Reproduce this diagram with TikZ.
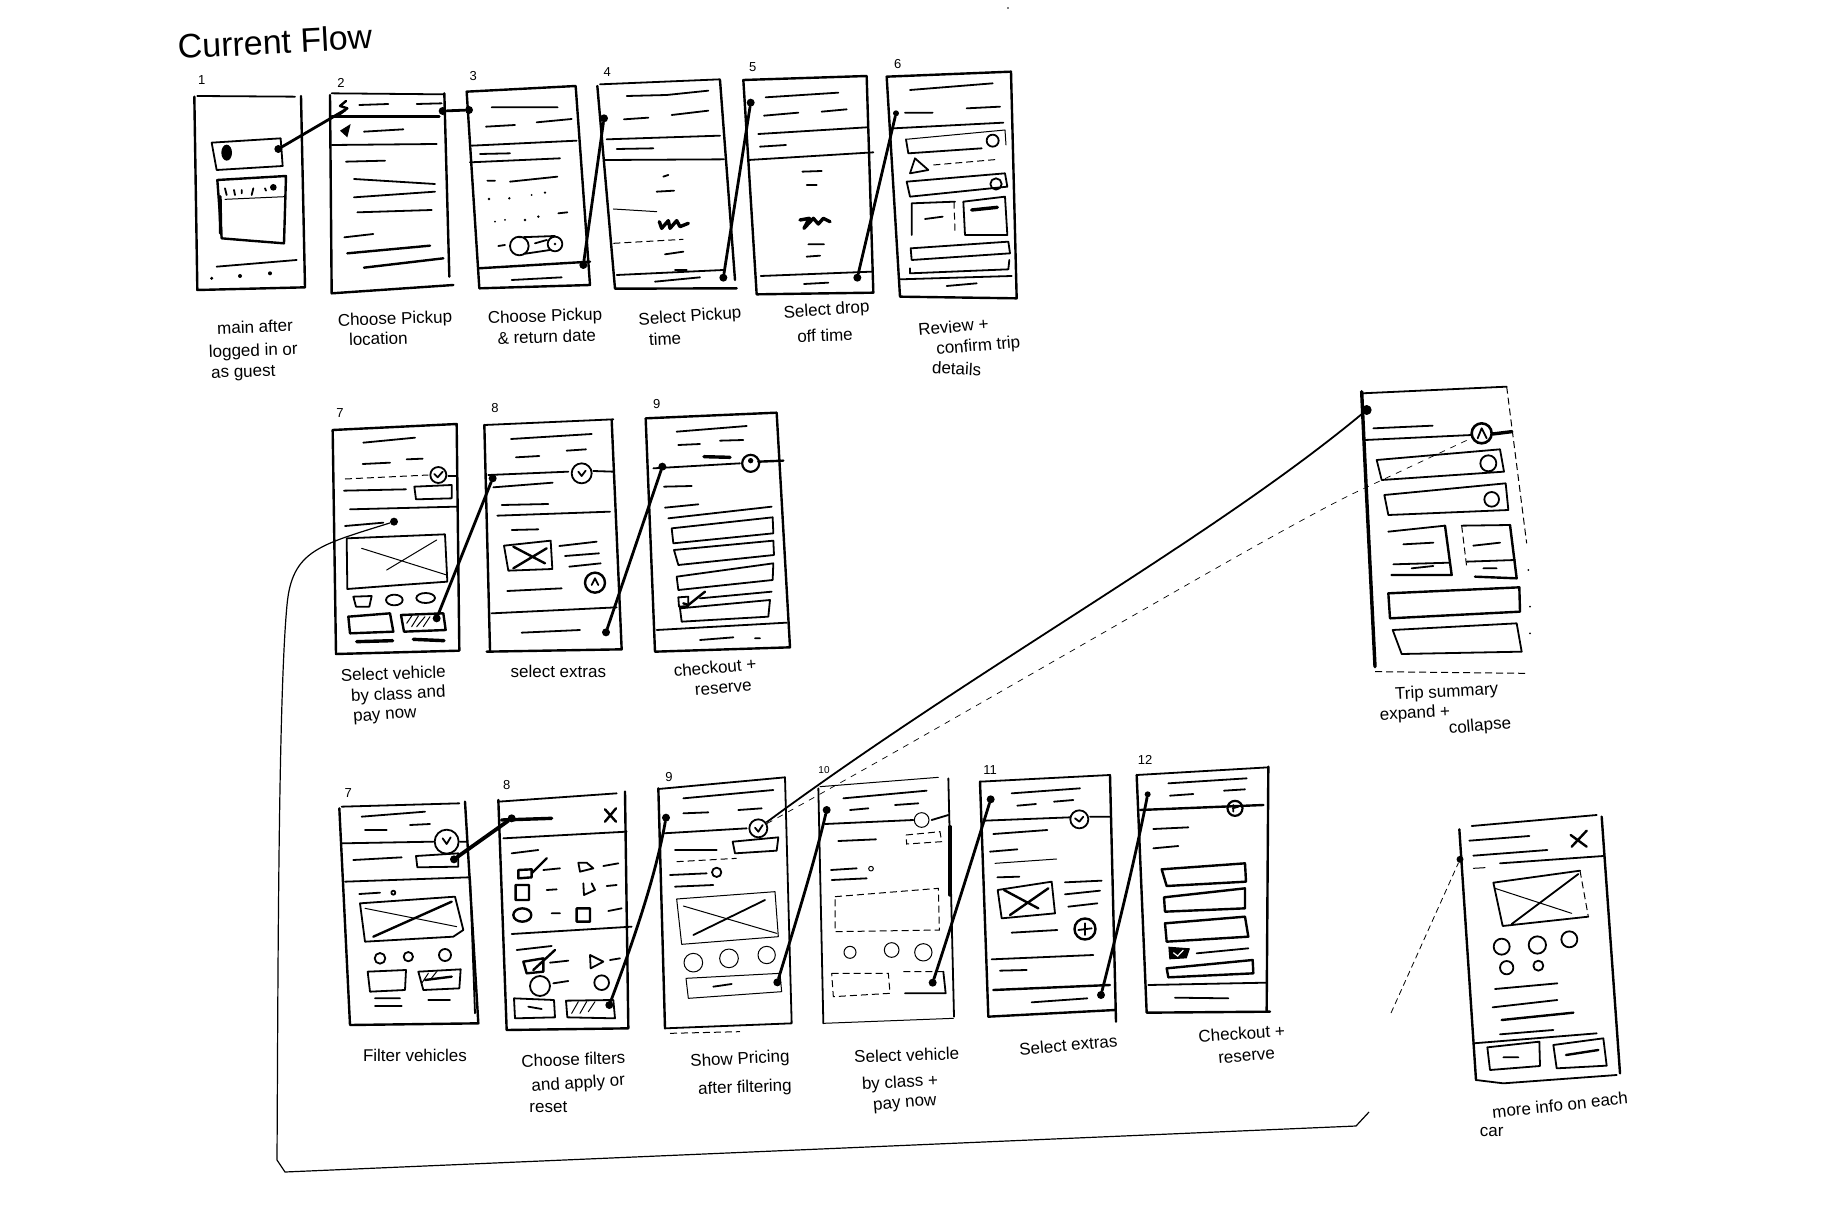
\documentclass[tikz,border=0pt]{standalone}
\usepackage{fontspec}
\setmainfont{Liberation Sans}
\tikzset{
 z1/.style={shift={(160,0)},scale=0.33333},
 z2/.style={shift={(600,50)},scale=0.33333},
 z3/.style={shift={(300,400)},scale=0.33333},
 z4/.style={shift={(1340,380)},scale=0.33333},
 z5/.style={shift={(330,780)},scale=0.33333},
 z6/.style={shift={(800,760)},scale=0.33333},
 z7/.style={shift={(1440,800)},scale=0.33333},
 hv/.style={draw=black,line width=2.4pt,line cap=round,line join=round},
 tl/.style={draw=black,line width=1.8pt,line cap=round,line join=round},
 fl/.style={draw=black,line width=1pt,line cap=round,line join=round},
 tk/.style={draw=black,line width=3.4pt,line cap=round,line join=round},
 dsh/.style={draw=black,line width=1pt,dash pattern=on 7pt off 4pt},
 fnt/.style={draw=black,line width=0.7pt,dash pattern=on 6pt off 6pt},
 hot/.style={circle,fill=black,inner sep=0pt,minimum size=8pt},
 lnk/.style={draw=black,line width=2.8pt,line cap=round},
 lab/.style={font=\fontsize{17}{17}\selectfont,inner sep=0pt,text=black},
 num/.style={font=\fontsize{13}{13}\selectfont,inner sep=0pt,text=black},
 ring/.style={circle,draw=black,line width=1.8pt,inner sep=0pt},
}
\begin{document}
\begin{tikzpicture}[x=1pt,y=-1pt]
\useasboundingbox[fill=white] (0,0) rectangle (1825,1217);
\fill (1008,8) circle[radius=0.8];
% ---------- crop 1 ----------
\begin{scope}[z1]
\node[font=\fontsize{34}{34}\selectfont,inner sep=0pt,rotate=3] (title) at (345,125) {Current Flow};
\node[num] (n1) at (125,240) {1};
\node[num] (n2) at (543,248) {2};
\node[num] (n3) at (940,228) {3};
\node[num] (n4) at (1342,215) {4};
\node[lab,rotate=2] (l1a) at (285,980) {main after};
\node[lab,rotate=2] (l1b) at (280,1055) {logged in or};
\node[lab,rotate=2] (l1c) at (250,1120) {as guest};
\node[lab,rotate=2] (l2a) at (705,960) {Choose Pickup};
\node[lab,rotate=2] (l2b) at (655,1016) {location};
\node[lab,rotate=2] (l3a) at (1155,952) {Choose Pickup};
\node[lab,rotate=2] (l3b) at (1160,1010) {\& return date};
% screen 1
\draw[hv] (103,290)--(112,870)--(435,862)--(423,288);
\draw[tl] (112,288)--(405,290);
\draw[tl] (155,428)--(362,415)--(368,498)--(170,510)--cycle;
\fill (200,458) ellipse[x radius=16,y radius=24];
\draw[hv] (172,540)--(378,528)--(372,730)--(270,722)--(185,715)--cycle;
\draw[tk] (180,590)--(182,700);
\draw[fl] (195,598)--(375,590);
\draw[tl] (195,565)--(200,585) (222,570)--(225,585) (245,570)--(245,580) (280,565)--(275,585) (315,565)--(318,572);
\fill (340,562) circle[radius=10];
\draw[tl] (170,800)--(410,780);
\fill (155,835) circle[radius=5] (240,828) circle[radius=6] (330,820) circle[radius=6];
\node[hot] (a1) at (355,447) {};
% screen 2
\draw[hv] (510,285)--(515,880)--(880,855);
\draw[hv] (853,280)--(868,830);
\draw[tl] (515,280)--(850,283) (598,315)--(685,312) (770,312)--(845,310);
\draw[hv] (515,350)--(838,350);
\draw[tl] (515,435)--(830,432) (612,395)--(730,388);
\fill (540,392)--(572,372)--(562,412)--cycle;
\draw[hv] (558,303)--(540,318)--(562,325)--(540,342);
\draw[tl] (558,485)--(675,482) (582,537)--(825,552) (582,592)--(825,575) (592,637)--(815,630) (553,712)--(640,702);
\draw[hv] (562,760)--(810,737) (612,803)--(850,775);
\coordinate (a2) at (555,330);
\node[hot] (b2) at (848,333) {};
% screen 3
\draw[hv] (920,275)--(958,865)--(1290,855)--(1247,258)--cycle;
\draw[tl] (995,322)--(1193,322) (978,380)--(1065,375) (1130,367)--(1235,357) (935,437)--(1250,422) (960,462)--(1050,460) (930,487)--(1200,475) (1050,545)--(1192,530) (982,542)--(1005,542);
\fill (987,597) circle[radius=4] (1048,595) circle[radius=4] (1115,585) circle[radius=3] (1155,578) circle[radius=4] (1005,665) circle[radius=3] (1035,660) circle[radius=3] (1095,660) circle[radius=4] (1135,650) circle[radius=4];
\draw[tl] (1195,640)--(1222,637);
\draw[tl] (1078,738) circle[radius=28] (1185,732) circle[radius=22] (1078,712)--(1185,708) (1090,762)--(1170,750) (1015,738)--(1035,735) (1125,730)--(1160,720);
\fill (1185,732) circle[radius=4];
\draw[hv] (955,805)--(1290,785);
\draw[tl] (1055,840)--(1205,832);
\node[hot] (a3) at (927,330) {};
\node[hot] (b3) at (1270,795) {};
\end{scope}
% ---------- crop 2 ----------
\begin{scope}[z2]
\node[num] (n5) at (458,50) {5};
\node[num] (n6) at (893,42) {6};
\node[lab,rotate=4] (l4a) at (270,802) {Select Pickup};
\node[lab,rotate=3] (l4b) at (195,866) {time};
\node[lab,rotate=4] (l5a) at (680,782) {Select drop};
\node[lab,rotate=2] (l5b) at (675,856) {off time};
\node[lab,rotate=5] (l6a) at (1060,830) {Review +};
\node[lab,rotate=5] (l6b) at (1135,890) {confirm trip};
\node[lab,rotate=-3] (l6c) at (1070,955) {details};
% screen 4
\draw[hv] (-8,108)--(45,716)--(410,715);
\draw[hv] (360,90)--(405,690);
\draw[tl] (0,103)--(360,88) (80,138)--(200,135)--(325,122) (72,208)--(145,203) (215,195)--(325,182) (20,268)--(360,257) (50,297)--(160,295) (15,330)--(372,328) (190,380)--(205,375) (170,425)--(222,422) (195,613)--(250,605) (225,660)--(260,660) (50,675)--(370,660) (165,695)--(300,682);
\draw[fl] (40,477)--(170,485);
\draw[dsh] (40,580)--(250,568);
\draw[tk] (178,515)--(185,535)--(205,512)--(210,535)--(230,512)--(240,530)--(265,520);
\node[hot] (a4) at (12,205) {};
\node[hot] (b4) at (370,683) {};
% screen 5
\draw[hv] (430,90)--(470,733)--(820,728)--(800,78)--cycle;
\draw[tl] (497,142)--(715,128) (492,197)--(595,188) (665,185)--(740,178) (475,252)--(800,232) (480,290)--(558,285) (445,330)--(820,307) (607,365)--(665,363) (620,405)--(650,405) (625,583)--(672,583) (620,620)--(660,617) (482,678)--(815,665) (612,702)--(685,698);
\draw[tk] (600,510)--(628,505)--(612,535)--(640,505)--(655,522)--(670,505)--(690,515);
\node[hot] (a5) at (452,158) {};
\node[hot] (b5) at (772,683) {};
% screen 6
\draw[hv] (860,80)--(900,740)--(1250,745)--(1233,65)--cycle;
\draw[tl] (930,120)--(1178,100) (915,188)--(998,188) (1100,175)--(1200,170) (880,235)--(1210,218);
\draw[fl] (918,268)--(1215,240)--(1218,285);
\draw[tl] (918,268)--(925,310)--(1145,295);
\draw[tl] (1178,272) circle[radius=18] (930,370)--(945,325)--(985,360)--cycle;
\draw[dsh] (1000,345)--(1195,328);
\draw[tl] (920,395)--(1215,370)--(1222,410)--(930,440)--cycle (1188,402) circle[radius=17];
\draw[tl] (935,460)--(1065,455) (935,460)--(935,555);
\draw[dsh] (1062,455)--(1065,545);
\draw[tl] (975,507)--(1028,500) (1090,455)--(1215,440)--(1222,555)--(1095,555)--cycle;
\draw[tk] (1115,480)--(1192,472);
\draw[tl] (932,595)--(1225,575)--(1230,610)--(935,630)--cycle (930,655)--(930,670)--(1225,658)--(1228,630) (900,688)--(1235,678) (1040,708)--(1130,700);
\node[hot,minimum size=6pt] (a6) at (888,190) {};
\end{scope}
% ---------- crop 3 ----------
\begin{scope}[z3]
\node[num] (n7a) at (120,40) {7};
\node[num] (n8a) at (585,25) {8};
\node[num] (n9a) at (1070,12) {9};
\node[lab,rotate=2] (l7a) at (280,820) {Select vehicle};
\node[lab,rotate=3] (l7b) at (295,885) {by class and};
\node[lab,rotate=4] (l7c) at (255,950) {pay now};
\node[lab] (l8a) at (775,815) {select extras};
\node[lab,rotate=5] (l9a) at (1245,802) {checkout +};
\node[lab,rotate=5] (l9b) at (1270,866) {reserve};
% screen 7a
\draw[hv] (98,90)--(108,762)--(478,752)--(470,72)--cycle;
\draw[tl] (190,128)--(345,113) (188,192)--(270,188) (320,178)--(368,176) (132,272)--(318,268) (343,260)--(455,255)--(455,295)--(348,298)--cycle (445,228)--(470,228) (150,328)--(470,320) (135,378)--(250,368);
\draw[dsh] (135,237)--(385,225);
\node[ring,minimum size=16pt] (c7a) at (415,225) {};
\draw[tl] (403,222)--(413,232)--(428,215);
\node[hot] (d7a) at (282,365) {};
\draw[tl] (140,415)--(435,403)--(442,545)--(300,555)--(142,567)--cycle;
\draw[fl] (185,445)--(440,525) (260,510)--(410,420);
\draw[tl] (160,590)--(215,588)--(208,620)--(168,620)--cycle (283,600) ellipse[x radius=25,y radius=16] (377,594) ellipse[x radius=28,y radius=15];
\draw[hv] (145,650)--(270,640)--(280,695)--(150,700)--cycle (303,645)--(430,640)--(437,690)--(312,695)--cycle;
\draw[fl] (320,670)--(335,648) (335,680)--(355,648) (350,680)--(375,650) (370,680)--(390,650);
\draw[tk] (170,725)--(278,722) (340,718)--(432,722);
\node[hot] (a7) at (410,655) {};
% screen 8a
\draw[hv] (553,75)--(570,750) (560,755)--(965,748)--(935,60);
\draw[tl] (553,75)--(940,58) (633,117)--(875,102) (648,172)--(718,168) (800,152)--(858,148) (565,225)--(805,215) (880,213)--(940,215) (580,262)--(758,248) (605,315)--(745,312) (592,347)--(930,335) (635,390)--(715,388);
\node[ring,minimum size=20pt] (c8a) at (845,220) {};
\draw[tl] (835,215)--(845,228)--(857,212);
\draw[tl] (612,437)--(752,422)--(757,507)--(625,512)--cycle (778,438)--(890,425) (795,468)--(897,460) (808,500)--(902,490) (622,573)--(785,565) (575,640)--(950,622) (665,698)--(840,690);
\draw[hv] (640,440)--(735,490) (640,505)--(740,445);
\draw[hv] (885,548) circle[radius=30];
\draw[tl] (875,555)--(885,535)--(895,555);
\node[hot] (b8) at (578,235) {};
\node[hot] (c8) at (918,697) {};
% screen 9a
\draw[hv] (1037,55)--(1065,755)--(1470,742)--(1430,38)--cycle;
\draw[tl] (1130,95)--(1340,78) (1135,135)--(1200,132) (1260,122)--(1330,120) (1060,205)--(1320,190) (1092,260)--(1175,258) (1095,323)--(1195,313) (1105,355)--(1415,320) (1115,385)--(1418,352)--(1420,400)--(1120,430)--cycle (1122,450)--(1420,422)--(1422,465)--(1135,495)--cycle (1130,530)--(1420,490)--(1418,540)--(1135,570)--cycle (1135,592)--(1165,590)--(1165,618)--(1137,620)--cycle (1200,595)--(1415,575) (1140,625)--(1410,600)--(1405,650)--(1145,665)--cycle (1070,690)--(1460,668) (1200,720)--(1300,712) (1365,715)--(1380,715);
\draw[hv] (1150,610)--(1165,615)--(1215,575) (1375,185)--(1450,182);
\draw[tk] (1212,170)--(1290,172);
\node[ring,minimum size=17pt,line width=2.2pt] (c9a) at (1352,190) {};
\fill (1352,182) circle[radius=8];
\node[hot] (d9) at (1087,200) {};
\end{scope}
% ---------- crop 4 ----------
\begin{scope}[z4]
\node[lab,rotate=3] (l10a) at (320,938) {Trip summary};
\node[lab,rotate=3] (l10b) at (225,1002) {expand +};
\node[lab,rotate=5] (l10c) at (420,1040) {collapse};
\draw[tk] (65,35)--(75,250)--(105,860);
\draw[tl] (65,40)--(500,20);
\draw[dsh] (500,20)--(560,490);
\draw[dsh] (105,875)--(560,880);
\fill (565,570) circle[radius=3] (570,680) circle[radius=3] (570,760) circle[radius=3];
\draw[tl] (100,145)--(278,137) (75,180)--(395,165) (125,300)--(110,240)--(480,208)--(492,275)--cycle (445,250) circle[radius=24] (133,345)--(497,310)--(505,390)--(145,405)--cycle (455,358) circle[radius=22] (145,455)--(315,437) (190,493)--(280,488) (160,553)--(330,548) (215,565)--(280,558) (365,437)--(510,435) (400,497)--(480,488) (380,545)--(525,540) (430,565)--(470,565) (158,750)--(530,730)--(545,815)--(185,822)--cycle;
\draw[hv] (315,437)--(335,585)--(155,585) (510,435)--(530,595)--(405,590) (145,640)--(538,622)--(540,695)--(150,715)--cycle;
\draw[dsh] (365,437)--(380,560);
\node[ring,minimum size=20pt,line width=2.6pt] (cA) at (425,160) {};
\draw[tl] (413,175)--(425,145)--(440,175);
\draw[tk] (458,162)--(515,155);
\node[hot,minimum size=10pt] (dT) at (80,90) {};
\end{scope}
% ---------- crop 5 ----------
\begin{scope}[z5]
\node[num] (n7b) at (55,38) {7};
\node[num] (n8b) at (530,15) {8};
\node[num] (n9b) at (1017,-10) {9};
\node[lab] (l11) at (255,825) {Filter vehicles};
\node[lab,rotate=2] (l12a) at (730,838) {Choose filters};
\node[lab,rotate=4] (l12b) at (745,912) {and apply or};
\node[lab] (l12c) at (655,982) {reset};
\node[lab,rotate=3] (l13a) at (1230,840) {Show Pricing};
\node[lab,rotate=2] (l13b) at (1245,925) {after filtering};
% screen 7b
\draw[hv] (28,85)--(60,735)--(445,730)--(405,65);
\draw[tl] (35,80)--(388,70) (95,110)--(285,95) (105,150)--(170,150) (240,135)--(300,132) (35,190)--(310,185) (390,185)--(410,185) (70,240)--(215,232) (258,228)--(385,220)--(385,260)--(262,262)--cycle (45,305)--(415,292) (88,342)--(150,338) (90,370)--(375,350)--(400,450)--(370,470)--(105,485)--cycle (150,535) circle[radius=16] (235,530) circle[radius=14] (345,525) circle[radius=18] (113,575)--(228,570)--(225,630)--(120,635)--cycle (265,575)--(392,568)--(388,625)--(280,630)--cycle (135,655)--(210,655) (135,678)--(215,678) (295,660)--(360,660) (420,290)--(435,700);
\draw[tl] (190,338) circle[radius=6];
\node[ring,minimum size=24pt] (c7b) at (350,185) {};
\draw[tl] (338,175)--(350,192)--(362,172);
\draw[fl] (105,385)--(380,440);
\draw[hv] (130,470)--(365,365);
\draw[hv] (285,600)--(365,590);
\draw[fl] (275,610)--(295,580) (300,600)--(320,575);
\node[hot] (a8) at (372,238) {};
% screen 8b
\draw[hv] (505,60)--(530,750)--(895,745)--(885,35);
\draw[tl] (505,65)--(860,40) (520,175)--(890,155) (545,220)--(625,210) (640,270)--(690,265) (820,258)--(865,250) (650,330)--(680,328) (830,318)--(860,315) (665,400)--(690,400) (835,393)--(875,385) (545,462)--(905,440) (560,510)--(665,498) (660,548)--(715,542) (840,540)--(870,535) (670,610)--(715,603) (630,618) circle[radius=30] (815,608) circle[radius=22] (552,655)--(672,660)--(675,712)--(555,715)--cycle (595,680)--(635,687) (708,662)--(850,660)--(855,715)--(712,712)--cycle;
\draw[tk] (515,120)--(665,115);
\draw[hv] (825,88)--(858,125) (858,85)--(825,125);
\draw[hv] (565,270)--(605,268)--(605,292)--(565,295)--cycle (605,280)--(650,235) (577,335)+(-20,-20) rectangle +(20,25) (577,405) ellipse[x radius=27,y radius=20] (760,400)+(-20,-15) rectangle +(20,25);
\draw[hv] (580,545)--(640,535)--(640,575)--(590,580)--cycle (610,570)--(675,510);
\draw[tl] (745,248)--(770,248) (745,248)--(750,275)--(790,265)--(770,248) (760,310)--(762,345)--(795,330)--(785,310) (780,525)--(782,565)--(820,545)--(780,525);
\draw[fl] (725,700)--(745,665) (750,700)--(770,665) (775,695)--(795,665);
\node[hot] (b9) at (545,115) {};
\node[hot] (c10) at (838,675) {};
% screen 9b
\draw[hv] (985,25)--(1005,745);
\draw[tl] (1365,-8)--(1385,730)--(1005,745);
\draw[tl] (985,27)--(1365,-8) (1060,55)--(1330,30) (1060,100)--(1135,97) (1225,90)--(1295,85) (1000,160)--(1250,145) (1208,185)--(1345,172)--(1340,212)--(1215,220)--cycle (1035,210)--(1160,210) (1020,285)--(1130,280) (1160,277) circle[radius=14] (1035,320)--(1150,315);
\draw[dsh] (1040,245)--(1220,235);
\draw[fl] (1040,357)--(1335,335)--(1345,470)--(1055,493)--cycle (1060,378)--(1340,460) (1090,548) circle[radius=28] (1197,535) circle[radius=28] (1310,525) circle[radius=26] (1068,595)--(1350,580)--(1355,635)--(1075,655)--cycle;
\draw[tl] (1090,465)--(1305,360) (1150,620)--(1205,612);
\node[ring,minimum size=18pt,fill=white] (c9b) at (1285,145) {};
\draw[tl] (1275,143)--(1285,155)--(1298,135);
\draw[dsh] (1020,760)--(1230,755);
\node[hot] (b10) at (1008,113) {};
\node[hot] (c11) at (1342,607) {};
\end{scope}
% ---------- crop 6 ----------
\begin{scope}[z6]
\node[num,font=\fontsize{10}{10}\selectfont] (n10) at (72,30) {10};
\node[num] (n11) at (570,30) {11};
\node[num] (n12) at (1035,0) {12};
\node[lab,rotate=2] (l14a) at (320,885) {Select vehicle};
\node[lab,rotate=3] (l14b) at (300,970) {by class +};
\node[lab,rotate=5] (l14c) at (315,1035) {pay now};
\node[lab,rotate=5] (l15) at (805,855) {Select extras};
\node[lab,rotate=4] (l16a) at (1325,820) {Checkout +};
\node[lab,rotate=5] (l16b) at (1340,890) {reserve};
% screen 10
\draw[tl] (55,85)--(70,790) (445,55)--(462,770);
\draw[tk] (450,200)--(450,405);
\draw[fl] (70,790)--(460,775) (60,80)--(415,52);
\draw[tl] (130,115)--(380,92) (150,150)--(205,145) (285,135)--(355,130) (75,192)--(340,180) (395,180)--(445,165) (115,243)--(228,238) (93,330)--(170,325) (95,360)--(200,355);
\draw[fl] (365,180) circle[radius=22] (213,326) circle[radius=7] (150,577) circle[radius=18] (275,570) circle[radius=22] (370,577) circle[radius=26];
\draw[dsh] (318,225)--(420,215)--(425,245)--(320,252)--cycle (105,410)--(415,385)--(418,510)--(105,515)--cycle (95,640)--(265,640)--(270,700)--(100,710)--cycle (310,635)--(430,635);
\draw[tl] (315,700)--(437,700)--(430,635);
\node[hot] (d10) at (80,150) {};
\node[hot] (e10) at (398,668) {};
% screen 11
\draw[hv] (540,65)--(565,770)--(945,750) (930,45)--(948,785);
\draw[tl] (540,65)--(930,45) (635,100)--(840,85) (652,137)--(708,132) (762,125)--(820,120) (553,182)--(810,172) (870,170)--(930,170) (580,222)--(742,210) (570,275)--(652,268) (592,352)--(658,350) (593,390)--(755,365)--(765,460)--(605,475)--cycle (795,367)--(905,362) (795,403)--(900,392) (805,440)--(892,430) (635,518)--(772,510) (575,598)--(880,585) (600,632)--(680,630) (695,727)--(862,715);
\draw[hv] (580,690)--(930,675) (612,390)--(715,445) (630,465)--(745,385);
\draw[fl] (585,310)--(770,297);
\node[ring,minimum size=18pt] (c11a) at (838,178) {};
\draw[tl] (825,175)--(838,185)--(850,170);
\node[ring,minimum size=21pt,line width=2.4pt] (c11b) at (855,507) {};
\draw[tl] (835,510)--(875,505) (855,490)--(855,525);
\node[hot] (f11) at (572,118) {};
\node[hot] (g11) at (903,705) {};
% screen 12
\draw[hv] (1010,45)--(1040,758)--(1410,755) (1405,20)--(1400,750);
\draw[tl] (1010,45)--(1405,22) (1105,70)--(1340,55) (1110,107)--(1180,102) (1272,92)--(1335,88) (1060,207)--(1165,202) (1060,265)--(1135,258) (1190,580)--(1345,565) (1045,675)--(1400,668) (1125,713)--(1285,715);
\draw[hv] (1020,150)--(1390,135) (1085,328)--(1335,310)--(1338,365)--(1100,378)--cycle (1092,412)--(1335,385)--(1335,445)--(1095,455)--cycle (1095,490)--(1335,470)--(1345,530)--(1100,545)--cycle (1100,625)--(1358,600)--(1360,640)--(1105,652)--cycle;
\fill (1105,560)--(1170,565)--(1160,595)--(1108,598)--cycle;
\draw[white,line width=1.2pt] (1120,578)--(1133,588)--(1150,570);
\node[ring,minimum size=15pt,line width=2.2pt] (c12) at (1305,145) {};
\draw[tl] (1300,135)--(1300,155) (1298,145)--(1315,140);
\node[hot,minimum size=6pt] (h12) at (1043,103) {};
\end{scope}
% ---------- crop 7 ----------
\begin{scope}[z7]
\node[lab,rotate=6] (l17a) at (360,915) {more info on each};
\node[lab] (l17b) at (155,995) {car};
\draw[hv] (58,88)--(108,840) (485,50)--(540,820);
\draw[tl] (108,840)--(190,850)--(530,825) (95,78)--(470,45) (88,122)--(268,108) (100,167)--(322,150) (180,190)--(490,168) (165,567)--(352,550) (158,622)--(352,600) (180,703)--(340,690) (100,730)--(470,700) (142,742)--(298,725)--(300,798)--(150,810)--cycle (190,772)--(235,772) (340,735)--(490,715)--(500,797)--(350,805)--cycle;
\draw[fl] (100,205)--(135,203);
\draw[hv] (185,660)--(400,638) (378,765)--(475,750) (392,105)--(440,140) (440,92)--(395,140);
\draw[tl] (160,248)--(420,212) (188,378)--(445,350) (160,248)--(188,378) (215,372)--(415,222);
\draw[dsh] (420,212)--(445,350);
\draw[fl] (165,265)--(395,340);
\draw[tl] (185,440) circle[radius=24] (292,435) circle[radius=26] (388,418) circle[radius=24] (200,503) circle[radius=20] (295,497) circle[radius=15];
\node[hot,minimum size=7pt] (m7) at (60,178) {};
\end{scope}
% ---------- connectors ----------
\draw[lnk] (a1)--(a2);
\draw[lnk] (b2)--(a3);
\draw[lnk] (b3)--(a4);
\draw[lnk] (b4)--(a5);
\draw[lnk] (b5)--(a6);
\draw[lnk] (a7)--(b8);
\draw[lnk] (c8)--(d9);
\draw[lnk,line width=3.8pt] (a8)--(b9);
\draw[lnk] (c10) .. controls (630,950) and (655,880) .. (b10);
\draw[lnk] (c11) .. controls (795,925) and (815,860) .. (d10);
\draw[lnk] (e10) .. controls (950,930) and (975,850) .. (f11);
\draw[lnk] (g11) .. controls (1115,940) and (1135,860) .. (h12);
\coordinate (kk) at (1350,495);
\draw[line width=1.8pt] (c9b) .. controls (980,665) and (1210,540) .. (dT);
\draw[fnt] (c9b) .. controls (1000,695) and (1250,545) .. (kk) -- (cA);
\coordinate (u1) at (287,605);
\coordinate (u2) at (277,1160);
\coordinate (u3) at (285,1172);
\coordinate (u4) at (1356,1126);
\coordinate (u5) at (1369,1112);
\coordinate (u6) at (1391,1013);
\draw[line width=1.2pt] (d7a) .. controls (320,545) and (292,550) .. (u1) .. controls (278,700) and (278,1000) .. (u2) -- (u3) -- (u4) -- (u5);
\draw[line width=0.8pt,dash pattern=on 6pt off 4pt] (u6)--(m7);
\end{tikzpicture}
\end{document}
